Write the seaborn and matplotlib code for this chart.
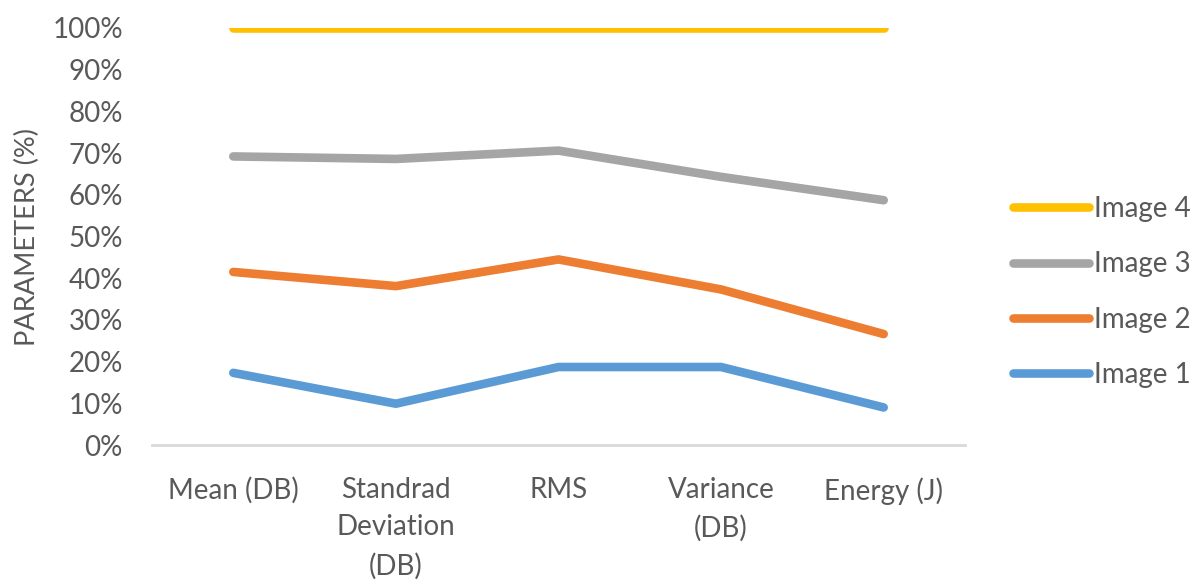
import matplotlib
matplotlib.use("Agg")
import matplotlib.pyplot as plt
import matplotlib.ticker as mticker
from matplotlib.lines import Line2D
import pandas as pd
import seaborn as sns

# Parameter categories along the x axis
categories = ["Mean (DB)", "Standrad\nDeviation\n(DB)", "RMS", "Variance\n(DB)", "Energy (J)"]

# Cumulative share of each image per parameter (fraction of 1)
image1 = [0.173, 0.099, 0.187, 0.187, 0.090]
image2 = [0.415, 0.381, 0.445, 0.373, 0.266]
image3 = [0.692, 0.686, 0.706, 0.643, 0.587]
image4 = [1.000, 1.000, 1.000, 1.000, 1.000]

series_names = ["Image 1", "Image 2", "Image 3", "Image 4"]
series_values = [image1, image2, image3, image4]
colors = ["#5B9BD5", "#ED7D31", "#A5A5A5", "#FFC000"]

rows = []
for name, vals in zip(series_names, series_values):
    for i, v in enumerate(vals):
        rows.append({"pos": i, "value": v, "series": name})
df = pd.DataFrame(rows)

sns.set_theme(style="white")
plt.rcParams["font.family"] = ["Lato", "DejaVu Sans"]
text_color = "#595959"
fs = 20

fig = plt.figure(figsize=(11.99, 5.79), dpi=100)
ax = fig.add_axes([152 / 1199, 1 - 445 / 579, (965 - 152) / 1199, (445 - 28) / 579])

sns.lineplot(data=df, x="pos", y="value", hue="series", hue_order=series_names,
             palette=colors, linewidth=6.2, legend=False, ax=ax,
             solid_capstyle="round", solid_joinstyle="round")

ax.set_xlim(-0.5, 4.5)
ax.set_ylim(0, 1.0)
ax.set_yticks([i / 10 for i in range(11)])
ax.yaxis.set_major_formatter(mticker.PercentFormatter(1.0, decimals=0))
ax.set_xticks(range(len(categories)))
ax.set_xticklabels(categories, linespacing=1.55)
ax.tick_params(axis="both", length=0, labelsize=fs, colors=text_color)
ax.tick_params(axis="y", pad=21)
ax.tick_params(axis="x", pad=23)
ax.set_xlabel("")
ax.set_ylabel("PARAMETERS (%)", fontsize=19.5, color=text_color, labelpad=9)

for side in ["top", "right", "left"]:
    ax.spines[side].set_visible(False)
ax.spines["bottom"].set_color("#D9D9D9")
ax.spines["bottom"].set_linewidth(2)
ax.grid(False)

handles = [Line2D([0], [0], color=c, lw=6.2, solid_capstyle="round") for c in colors]
leg = fig.legend(handles[::-1], series_names[::-1], loc="center left",
                 bbox_to_anchor=(1013 / 1199, 1 - 292 / 579), frameon=False,
                 fontsize=fs, handlelength=2.75, handletextpad=0.15,
                 labelspacing=1.06, borderpad=0, borderaxespad=0)
for t in leg.get_texts():
    t.set_color(text_color)

fig.savefig("out.png", dpi=100)
